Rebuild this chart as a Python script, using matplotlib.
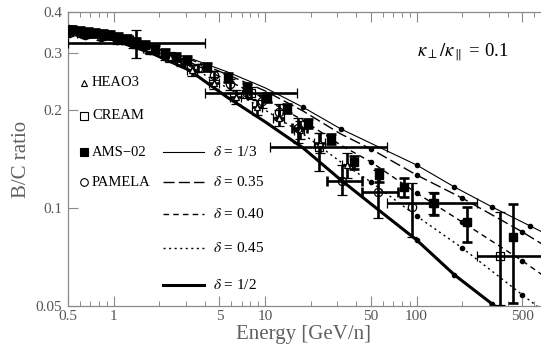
import matplotlib
matplotlib.use('Agg')
import matplotlib.pyplot as plt
from matplotlib.ticker import FixedLocator, FixedFormatter, NullFormatter

plt.rcParams['font.family'] = ['Liberation Serif', 'DejaVu Serif']
plt.rcParams['mathtext.fontset'] = 'stix'

# ---------------- model curves ----------------
E_a = [0.5, 1, 1.78, 3.16, 5.62, 10, 17.8, 31.6, 56.2, 100, 178, 316, 562, 1000]
E_b = [0.5, 1, 1.78, 3.16, 5.62, 10, 17.8, 31.6, 50, 100, 200, 500, 1000]
bc_d13 = [0.365, 0.3375, 0.312, 0.289, 0.262, 0.234, 0.204, 0.175, 0.154, 0.1356, 0.116, 0.1007, 0.0881, 0.077]
bc_d035 = [0.3635, 0.3365, 0.311, 0.287, 0.257, 0.229, 0.1986, 0.1688, 0.1518, 0.1263, 0.1073, 0.0844, 0.0692]
bc_d040 = [0.362, 0.334, 0.308, 0.281, 0.247, 0.216, 0.186, 0.156, 0.1385, 0.1112, 0.0906, 0.0688, 0.0548]
bc_d045 = [0.361, 0.331, 0.304, 0.273, 0.234, 0.200, 0.169, 0.1385, 0.1202, 0.0945, 0.0754, 0.0541, 0.0422]
bc_d12 = [0.360, 0.328, 0.299, 0.265, 0.219, 0.184, 0.153, 0.122, 0.0986, 0.0798, 0.0623, 0.0507, 0.041, 0.0332]

# ---------------- data ----------------
ams_E = [0.53, 0.60, 0.68, 0.755, 0.852, 0.948, 1.07, 1.23, 1.41, 1.61, 1.88, 2.19, 2.59, 3.06,
         4.14, 5.70, 7.61, 10.3, 14.0, 19.2, 27.3, 38.7, 56.6, 82.7, 130.5, 215, 434]
ams_bc = [0.352, 0.349, 0.346, 0.345, 0.342, 0.340, 0.336, 0.331, 0.324, 0.317, 0.308, 0.299, 0.291, 0.285,
          0.271, 0.251, 0.235, 0.219, 0.202, 0.182, 0.163, 0.138, 0.126, 0.116, 0.1036, 0.0906, 0.0815]
ams_err_lo = [0.010, 0.010, 0.010, 0.010, 0.010, 0.010, 0.010, 0.010, 0.009, 0.009, 0.009, 0.009, 0.009, 0.008,
              0.008, 0.008, 0.007, 0.007, 0.006, 0.006, 0.006, 0.006, 0.006, 0.008, 0.0084, 0.012, 0.0304]
ams_err_hi = [0.010, 0.010, 0.010, 0.010, 0.010, 0.010, 0.010, 0.010, 0.009, 0.009, 0.009, 0.009, 0.009, 0.008,
              0.008, 0.008, 0.007, 0.007, 0.006, 0.006, 0.006, 0.006, 0.006, 0.008, 0.0076, 0.0101, 0.0214]

pam_E = [0.51, 0.65, 0.83, 1.06, 1.35, 1.73, 2.2, 2.8, 3.6, 4.6, 5.9, 7.5, 9.6, 12.3, 16.5, 32.2, 55.7, 93.3]
pam_bc = [0.345, 0.340, 0.335, 0.328, 0.319, 0.306, 0.293, 0.281, 0.269, 0.256, 0.240, 0.227, 0.213, 0.197,
          0.176, 0.121, 0.112, 0.1007]
pam_err_lo = [0.008, 0.008, 0.008, 0.008, 0.008, 0.008, 0.008, 0.008, 0.008, 0.008, 0.009, 0.009, 0.010, 0.011,
              0.018, 0.0114, 0.0188, 0.0192]
pam_err_hi = [0.008, 0.008, 0.008, 0.008, 0.008, 0.008, 0.008, 0.008, 0.008, 0.008, 0.009, 0.009, 0.010, 0.011,
              0.013, 0.0146, 0.0188, 0.0187]
pam_xlo = [0, 0, 0, 0, 0, 0, 0, 0, 0, 0, 0, 0, 0, 0, 1.4, 6.6, 12.0, 0]
pam_xhi = [0, 0, 0, 0, 0, 0, 0, 0, 0, 0, 0, 0, 0, 0, 2.4, 11.5, 19.8, 0]

heao_E = [0.62, 0.88, 1.24, 1.7, 2.35, 3.3, 4.6, 6.4, 8.9, 12.3, 16.9, 23, 35]
heao_bc = [0.345, 0.340, 0.328, 0.310, 0.291, 0.265, 0.242, 0.219, 0.204, 0.189, 0.1736, 0.1584, 0.1356]
heao_err = [0.010, 0.010, 0.010, 0.010, 0.010, 0.010, 0.010, 0.011, 0.011, 0.011, 0.011, 0.011, 0.012]
heao_xerr = [0.05, 0.07, 0.10, 0.13, 0.18, 0.25, 0.35, 0.5, 0.7, 1.0, 1.3, 1.8, 2.7]

cream_E = [1.41, 8.1, 22.7, 128, 356]
cream_bc = [0.321, 0.2255, 0.154, 0.1036, 0.0712]
cream_err_lo = [0.032, 0.010, 0.024, 0.008, 0.0208]
cream_err_hi = [0.031, 0.010, 0.016, 0.008, 0.026]
cream_xlo = [0.91, 4.08, 11.9, 64.1, 105]
cream_xhi = [2.59, 8.2, 41.2, 122.5, 531]

xticks = [0.5, 1, 5, 10, 50, 100, 500]
xtick_labels = ['0.5', '1', '5', '10', '50', '100', '500']
yticks = [0.05, 0.1, 0.2, 0.3, 0.4]
ytick_labels = ['0.05', '0.1', '0.2', '0.3', '0.4']

W, H = 541, 356
fig = plt.figure(figsize=(W / 100, H / 100), dpi=100)
ax_l, ax_r, ax_t, ax_b = 68, 568, 12, 306
ax = fig.add_axes([ax_l / W, (H - ax_b) / H, (ax_r - ax_l) / W, (ax_b - ax_t) / H])
ax.set_xscale('log')
ax.set_yscale('log')
ax.set_xlim(0.5, 1000)
ax.set_ylim(0.05, 0.4)

# model lines
mk = dict(marker='o', markersize=3.0, color='black')
ax.plot(E_a, bc_d13, lw=0.8, markevery=[6, 7, 9, 10, 11, 12], **mk)
ax.plot(E_b, bc_d035, lw=1.0, dashes=(8, 3), markevery=[8, 9, 10, 11], **mk)
ax.plot(E_b, bc_d040, lw=1.0, dashes=(4, 3), markevery=[8, 9, 10, 11], **mk)
ax.plot(E_b, bc_d045, lw=1.0, dashes=(1.5, 2.5), markevery=[8, 9, 10, 11, 12], **mk)
ax.plot(E_a, bc_d12, lw=2.2, markevery=[9, 10, 11], **mk)

eb = dict(ecolor='black', elinewidth=1.9, capsize=3.5, capthick=1.9, linestyle='none', zorder=5)


def sel(vals, idx):
    return [vals[i] for i in idx]


# HEAO3
ax.errorbar(heao_E, heao_bc, yerr=heao_err, xerr=heao_xerr, marker='^', ms=5,
            mfc='white', mec='black', mew=0.9, **eb)
# PAMELA
ax.errorbar(pam_E, pam_bc, yerr=[pam_err_lo, pam_err_hi], marker='o', ms=6,
            mfc='none', mec='black', mew=0.9, **eb)
idx = [i for i in range(len(pam_E)) if pam_xlo[i] > 0]
ax.errorbar(sel(pam_E, idx), sel(pam_bc, idx), xerr=[sel(pam_xlo, idx), sel(pam_xhi, idx)],
            marker='none', **eb)
# CREAM
ax.errorbar(cream_E, cream_bc, yerr=[cream_err_lo, cream_err_hi], xerr=[cream_xlo, cream_xhi],
            marker='s', ms=6, mfc='none', mec='black', mew=0.9, **eb)
# AMS-02
ax.errorbar(ams_E, ams_bc, yerr=[ams_err_lo, ams_err_hi], marker='s', ms=5.5,
            mfc='black', mec='black', **eb)

# axes styling
frame_c = '#8a8a8a'
for s in ['left', 'bottom', 'top', 'right']:
    ax.spines[s].set_color(frame_c)
    ax.spines[s].set_linewidth(0.9)
ax.xaxis.set_major_locator(FixedLocator(xticks))
ax.xaxis.set_major_formatter(FixedFormatter(xtick_labels))
xminor = [0.6, 0.7, 0.8, 0.9, 2, 3, 4, 6, 7, 8, 9, 20, 30, 40, 60, 70, 80, 90, 200, 300, 400, 600, 700, 800, 900]
ax.xaxis.set_minor_locator(FixedLocator(xminor))
ax.xaxis.set_minor_formatter(NullFormatter())
ax.yaxis.set_major_locator(FixedLocator(yticks))
ax.yaxis.set_major_formatter(FixedFormatter(ytick_labels))
ax.yaxis.set_minor_locator(FixedLocator([]))
ax.yaxis.set_minor_formatter(NullFormatter())
ax.tick_params(which='both', direction='in', color=frame_c, top=True, right=True,
               labelcolor='#555555', labelsize=11)
ax.tick_params(which='major', length=7, width=0.8)
ax.tick_params(which='minor', length=3.5, width=0.7)
ax.tick_params(axis='x', pad=3)
ax.tick_params(axis='y', pad=4)

fig.text(304 / W, (H - 335) / H, 'Energy [GeV/n]', ha='center', va='center', fontsize=15, color='#606060')
fig.text(22 / W, (H - 159) / H, 'B/C ratio', ha='center', va='center', rotation=90, fontsize=15,
         color='#606060')

ax.text(0.698, 0.864, r'$\kappa_{\perp}/\kappa_{\parallel}$ = 0.1', transform=ax.transAxes,
        ha='left', va='center', fontsize=13.5)


def axfrac(px, py):
    return (px - ax_l) / (ax_r - ax_l), (ax_b - py) / (ax_b - ax_t)


# legend: experiments
leg_items = [('^', 'white', 'HEAO3', 83), ('s', 'white', 'CREAM', 116), ('s', 'black', 'AMS\u221202', 152),
             ('o', 'white', 'PAMELA', 182)]
for m, fc, lab, py in leg_items:
    x0, y0 = axfrac(84, py)
    ax.plot([x0], [y0], marker=m, ms=5.5 if m != '^' else 5, mfc=fc, mec='black', mew=0.8,
            transform=ax.transAxes, clip_on=False, linestyle='none')
    x1, _ = axfrac(92, py)
    ax.text(x1, y0, lab, transform=ax.transAxes, ha='left', va='center', fontsize=10.5)

# legend: models
line_items = [(dict(lw=0.8), r'$\delta$ = 1/3', 152), (dict(lw=1.0, dashes=(8, 3)), r'$\delta$ = 0.35', 182),
              (dict(lw=1.0, dashes=(4, 3)), r'$\delta$ = 0.40', 214),
              (dict(lw=1.0, dashes=(1.5, 2.5)), r'$\delta$ = 0.45', 248),
              (dict(lw=2.2), r'$\delta$ = 1/2', 285)]
for st, lab, py in line_items:
    xa, y0 = axfrac(163, py)
    xb, _ = axfrac(204, py)
    ax.plot([xa, xb], [y0, y0], color='black', transform=ax.transAxes, **st)
    xt, _ = axfrac(213, py)
    ax.text(xt, y0, lab, transform=ax.transAxes, ha='left', va='center', fontsize=11)

fig.savefig('out.png', dpi=100)
